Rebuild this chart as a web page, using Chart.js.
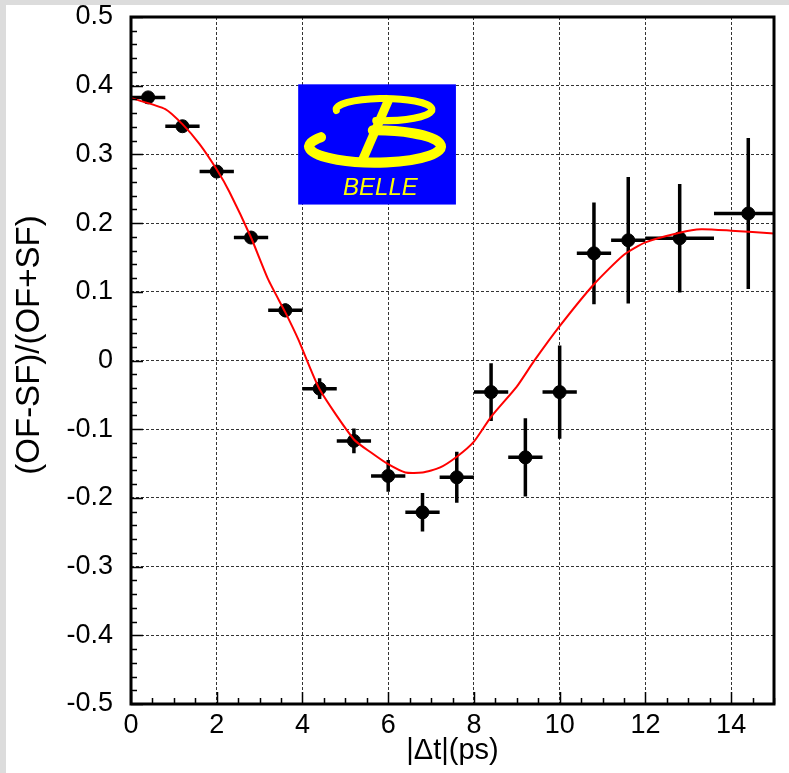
<!DOCTYPE html>
<html>
<head>
<meta charset="utf-8">
<script src="https://cdn.jsdelivr.net/npm/chart.js@4/dist/chart.umd.min.js"></script>
<style>
  html, body { margin: 0; padding: 0; background: #fff; }
  canvas { display: block; }
</style>
</head>
<body>
<canvas id="asym" width="789" height="773"></canvas>
<script>
// (OF-SF)/(OF+SF) asymmetry in |dt| bins
const dtBins  = [0.4, 1.2, 2.0, 2.8, 3.6, 4.4, 5.2, 6.0, 6.8, 7.6, 8.4, 9.2, 10.0, 10.8, 11.6, 12.8, 14.4];
const dtHalf  = [0.4, 0.4, 0.4, 0.4, 0.4, 0.4, 0.4, 0.4, 0.4, 0.4, 0.4, 0.4, 0.4, 0.4, 0.4, 0.8, 0.8];
const asym    = [0.383, 0.341, 0.275, 0.179, 0.073, -0.041, -0.117, -0.168, -0.221, -0.170, -0.046, -0.141, -0.046, 0.156, 0.175, 0.178, 0.214];
const asymErr = [0.006, 0.006, 0.007, 0.008, 0.010, 0.015, 0.018, 0.023, 0.028, 0.037, 0.042, 0.057, 0.068, 0.074, 0.092, 0.079, 0.110];

// fitted curve
const fitT = [0, 0.8, 1.2, 1.6, 2.0, 2.3, 2.8, 3.2, 3.6, 3.9, 4.4, 5.2, 5.6, 6.0, 6.4, 6.8, 7.2, 7.6, 8.0, 8.4, 9.0, 9.4, 10.0, 10.8, 11.5, 12.0, 12.8, 13.3, 14.0, 15.0];
const fitA = [0.382, 0.366, 0.344, 0.315, 0.278, 0.245, 0.179, 0.118, 0.070, 0.031, -0.042, -0.115, -0.134, -0.151, -0.163, -0.163, -0.156, -0.140, -0.118, -0.082, -0.038, -0.001, 0.050, 0.111, 0.154, 0.172, 0.186, 0.191, 0.189, 0.185];

const xTicks = [0, 2, 4, 6, 8, 10, 12, 14];
const yTicks = [-0.5, -0.4, -0.3, -0.2, -0.1, 0, 0.1, 0.2, 0.3, 0.4, 0.5];
const yTickLabels = ['-0.5', '-0.4', '-0.3', '-0.2', '-0.1', '0', '0.1', '0.2', '0.3', '0.4', '0.5'];

const FONT = '"Liberation Sans", Arial, sans-serif';

const pagePlugin = {
  id: 'page',
  beforeDraw(chart) {
    const ctx = chart.ctx;
    ctx.save();
    ctx.fillStyle = '#dcdcdc';
    ctx.fillRect(0, 0, chart.width, chart.height);
    ctx.fillStyle = '#ffffff';
    ctx.fillRect(6, 5, chart.width - 6, chart.height - 5);
    ctx.restore();
  }
};

function drawLogo(chart) {
  const {ctx, scales: {x, y}} = chart;
  const x0 = x.getPixelForValue(3.9), x1 = x.getPixelForValue(7.58);
  const y0 = y.getPixelForValue(0.402), y1 = y.getPixelForValue(0.227);
  const sx = (x1 - x0) / 158, sy = (y1 - y0) / 119;
  ctx.save();
  ctx.fillStyle = '#0000ff';
  ctx.fillRect(x0, y0, x1 - x0, y1 - y0);
  ctx.translate(x0, y0);
  ctx.scale(sx, sy);
  ctx.strokeStyle = '#ffff00';
  ctx.fillStyle = '#ffff00';
  ctx.lineCap = 'round';
  // lower bowl
  ctx.lineWidth = 10;
  ctx.beginPath();
  ctx.ellipse(77, 61.5, 66, 16, 0, 215 * Math.PI / 180, 268 * Math.PI / 180, true);
  ctx.stroke();
  // upper bowl
  ctx.lineWidth = 7;
  ctx.beginPath();
  ctx.ellipse(86, 25, 48, 11, 0, 175 * Math.PI / 180, 460 * Math.PI / 180, false);
  ctx.stroke();
  // stem
  ctx.lineWidth = 9;
  ctx.lineCap = 'butt';
  ctx.beginPath();
  ctx.moveTo(92, 12);
  ctx.lineTo(64, 76);
  ctx.stroke();
  ctx.font = 'italic 24px ' + FONT;
  ctx.textBaseline = 'alphabetic';
  ctx.fillText('BELLE', 45, 110);
  ctx.restore();
}

const errorBarPlugin = {
  id: 'errorBars',
  beforeDatasetsDraw(chart) {
    const {ctx, chartArea: a, scales: {x, y}} = chart;
    drawLogo(chart);
    ctx.save();
    ctx.beginPath();
    ctx.rect(a.left, a.top, a.right - a.left, a.bottom - a.top);
    ctx.clip();
    ctx.strokeStyle = '#000';
    ctx.lineWidth = 3.5;
    dtBins.forEach((t, i) => {
      const px = x.getPixelForValue(t), py = y.getPixelForValue(asym[i]);
      ctx.beginPath();
      ctx.moveTo(x.getPixelForValue(t - dtHalf[i]), py);
      ctx.lineTo(x.getPixelForValue(t + dtHalf[i]), py);
      ctx.moveTo(px, y.getPixelForValue(asym[i] - asymErr[i]));
      ctx.lineTo(px, y.getPixelForValue(asym[i] + asymErr[i]));
      ctx.stroke();
    });
    ctx.restore();
  }
};

const framePlugin = {
  id: 'frame',
  afterDraw(chart) {
    const {ctx, chartArea: a, scales: {x, y}} = chart;
    ctx.save();
    ctx.strokeStyle = '#000';
    // inward tick marks on the left and bottom axes
    ctx.lineWidth = 1.5;
    ctx.beginPath();
    for (let k = 0; k <= 50; k++) {
      const v = -0.5 + k * 0.02;
      const py = Math.round(y.getPixelForValue(v)) + 0.5;
      const len = k % 5 === 0 ? 12 : 6;
      ctx.moveTo(a.left, py);
      ctx.lineTo(a.left + len, py);
    }
    for (let k = 0; k <= 30; k++) {
      const px = Math.round(x.getPixelForValue(k * 0.5)) + 0.5;
      const len = k % 4 === 0 ? 12 : 6;
      ctx.moveTo(px, a.bottom);
      ctx.lineTo(px, a.bottom - len);
    }
    ctx.stroke();
    ctx.lineWidth = 3;
    ctx.strokeRect(a.left, a.top, a.right - a.left, a.bottom - a.top);
    // rotated y title
    ctx.fillStyle = '#000';
    ctx.font = '33px ' + FONT;
    ctx.textAlign = 'center';
    ctx.textBaseline = 'middle';
    ctx.translate(30, 345);
    ctx.rotate(-Math.PI / 2);
    ctx.fillText('(OF-SF)/(OF+SF)', 0, 0);
    ctx.restore();
  }
};

new Chart(document.getElementById('asym'), {
  type: 'scatter',
  data: {
    datasets: [
      {
        label: 'fit',
        data: fitT.map((t, i) => ({x: t, y: fitA[i]})),
        showLine: true,
        borderColor: '#ff0000',
        borderWidth: 2,
        pointRadius: 0,
        tension: 0.2,
        order: 0
      },
      {
        label: 'data',
        data: dtBins.map((t, i) => ({x: t, y: asym[i]})),
        showLine: false,
        pointRadius: 6.5,
        pointBackgroundColor: '#000',
        pointBorderColor: '#000',
        order: 1
      }
    ]
  },
  options: {
    responsive: false,
    animation: false,
    events: [],
    layout: {padding: {left: 0, top: 17, right: 15, bottom: 0}},
    plugins: {legend: {display: false}, tooltip: {enabled: false}},
    scales: {
      x: {
        type: 'linear',
        min: 0, max: 15,
        afterBuildTicks: s => { s.ticks = xTicks.map(v => ({value: v})); },
        afterFit: s => { s.height = 69; s.paddingLeft = 0; s.paddingRight = 0; },
        grid: {color: '#333', lineWidth: 1, drawTicks: false},
        border: {display: false, dash: [3, 2]},
        ticks: {color: '#000', padding: 5, font: {family: FONT, size: 27}, maxRotation: 0,
          callback: v => String(v)},
        title: {display: true, text: '|Δt|(ps)', color: '#000', font: {family: FONT, size: 29},
          padding: {top: 0, bottom: 5}}
      },
      y: {
        type: 'linear',
        min: -0.5, max: 0.5,
        afterBuildTicks: s => { s.ticks = yTicks.map(v => ({value: v})); },
        afterFit: s => { s.width = 131; s.paddingTop = 0; s.paddingBottom = 0; },
        grid: {color: '#333', lineWidth: 1, drawTicks: false},
        border: {display: false, dash: [3, 2]},
        ticks: {color: '#000', padding: 18, font: {family: FONT, size: 27},
          callback: (v, i) => yTickLabels[i]}
      }
    }
  },
  plugins: [pagePlugin, errorBarPlugin, framePlugin]
});
</script>
</body>
</html>
